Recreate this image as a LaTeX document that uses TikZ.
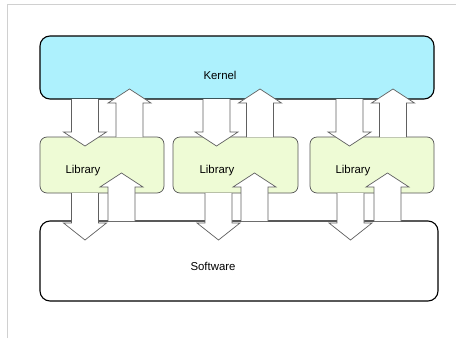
\documentclass[tikz,border=0pt]{standalone}
\usepackage{fontspec}
\setmainfont{Liberation Sans}
\definecolor{kernfill}{HTML}{ADF1FD}
\definecolor{libfill}{HTML}{EEFBD5}
\definecolor{libline}{HTML}{555555}
\definecolor{arrline}{HTML}{606060}
\definecolor{frameline}{HTML}{D0D0D0}
\newcommand{\blkarrow}[4]{% cx, ystart, yheadbase, ytip
  \draw[blk] (#1-13.5,#2) -- (#1-13.5,#3) -- (#1-21.5,#3) -- (#1,#4) -- (#1+21.5,#3) -- (#1+13.5,#3) -- (#1+13.5,#2);}
\tikzset{
  bigbox/.style={draw=black, line width=1.1pt, rounded corners=10pt, inner sep=0pt},
  libbox/.style={draw=libline, fill=libfill, line width=0.7pt, rounded corners=7pt, inner sep=0pt, minimum width=124pt, minimum height=56pt},
  lbl/.style={font=\fontsize{11.4}{13}\selectfont, inner sep=0pt},
  blk/.style={draw=arrline, fill=white, line width=0.7pt, line join=miter},
}
\begin{document}
\begin{tikzpicture}[x=1pt,y=-1pt]
\useasboundingbox (0,0) rectangle (456,338);
\draw[frameline, line width=1pt] (7.3,338) -- (7.3,4.3) -- (456,4.3);
\node[bigbox, fill=kernfill, minimum width=394pt, minimum height=63pt] (kernel) at (237,67.5) {};
\node[bigbox, fill=white, minimum width=398pt, minimum height=80pt] (soft) at (239,261) {};
\node[libbox] (lib1) at (102,165) {};
\node[libbox, minimum width=125pt] (lib2) at (235.5,165) {};
\node[libbox] (lib3) at (372,165) {};
\node[lbl] (tk) at (220,75) {Kernel};
\node[lbl] (ts) at (213,266) {Software};
\node[lbl] (t1) at (83,171) {Library};
\node[lbl] (t2) at (217,171) {Library};
\node[lbl] (t3) at (353,171) {Library};
% kernel -> library
\blkarrow{85}{99}{132}{146}
\blkarrow{216.5}{99}{132}{146}
\blkarrow{349.5}{99}{132}{146}
% library -> kernel
\blkarrow{129.5}{137}{103}{89}
\blkarrow{260}{137}{103}{89}
\blkarrow{393}{137}{103}{89}
% library -> software
\blkarrow{85}{193}{223}{240}
\blkarrow{218.5}{193}{223}{240}
\blkarrow{350.5}{193}{223}{240}
% software -> library
\blkarrow{121.5}{221}{187}{173}
\blkarrow{254.5}{221}{187}{173}
\blkarrow{387.5}{221}{187}{173}
\end{tikzpicture}
\end{document}
